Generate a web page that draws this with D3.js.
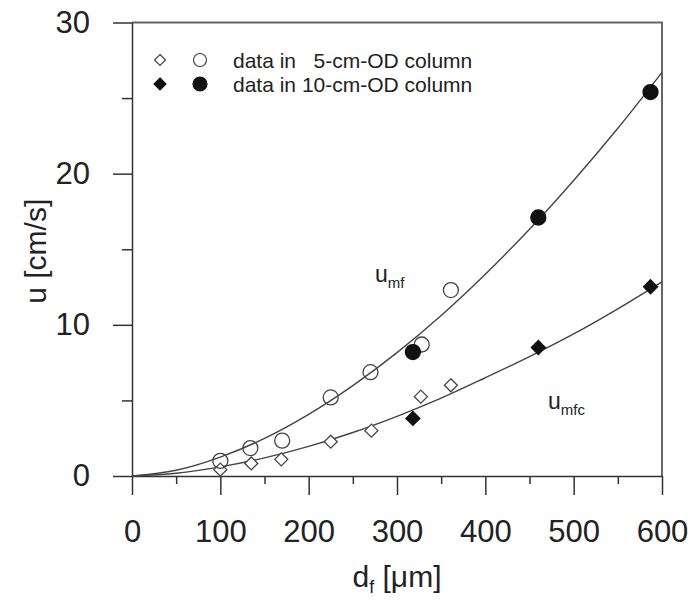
<!DOCTYPE html>
<html>
<head>
<meta charset="utf-8">
<script src="https://cdn.jsdelivr.net/npm/d3@7"></script>
<style>
  body { margin: 0; background: #fff; }
  svg { font-family: "Liberation Sans", Arial, sans-serif; }
</style>
</head>
<body>
<div id="vis"></div>
<script>
const width = 694;
const height = 606;
const margin = { top: 22.5, right: 32, bottom: 130, left: 132 };

// 5-cm-OD column (open markers)
const circles5 = [[100, 1.0], [134, 1.85], [170, 2.34], [225, 5.2], [270, 6.87], [328, 8.7], [361, 12.3]];
const diamonds5 = [[100, 0.42], [135, 0.83], [169, 1.1], [225, 2.27], [271, 3.0], [327, 5.25], [361, 6.0]];
// 10-cm-OD column (filled markers)
const circles10 = [[318, 8.2], [460, 17.1], [587, 25.4]];
const diamonds10 = [[318, 3.81], [460, 8.5], [587, 12.52]];

// fitted curves
const curveX = [0, 50, 100, 150, 200, 250, 300, 350, 400, 450, 500, 550, 600];
const umf = [0, 0.38, 1.25, 2.49, 4.08, 5.98, 8.16, 10.62, 13.35, 16.32, 19.55, 23.0, 26.7];
const umfc = [0, 0.18, 0.6, 1.2, 1.96, 2.88, 3.95, 5.15, 6.5, 7.9, 9.4, 11.06, 12.85];

const xMajor = [0, 100, 200, 300, 400, 500, 600];
const xMinor = [50, 150, 250, 350, 450, 550];
const yMajor = [0, 10, 20, 30];
const yMinor = [5, 15, 25];

const ink = '#333';

const svg = d3.select('#vis').append('svg')
  .attr('width', width)
  .attr('height', height);

const x = d3.scaleLinear()
  .domain([0, 600])
  .range([margin.left, width - margin.right]);
const y = d3.scaleLinear()
  .domain([0, 30])
  .range([height - margin.bottom, margin.top]);

// frame on top and right
svg.append('path')
  .attr('d', `M${x(0)},${y(30)}H${x(600)}V${y(0)}`)
  .attr('fill', 'none')
  .attr('stroke', '#666')
  .attr('stroke-width', 2);

// axes
const xAxis = svg.append('g')
  .attr('transform', `translate(0,${y(0)})`)
  .call(d3.axisBottom(x).tickValues(xMajor).tickSize(19).tickSizeOuter(0).tickPadding(25));
svg.append('g')
  .attr('transform', `translate(0,${y(0)})`)
  .call(d3.axisBottom(x).tickValues(xMinor).tickSize(8).tickFormat(''))
  .call(g => g.select('.domain').remove());
const yAxis = svg.append('g')
  .attr('transform', `translate(${x(0)},0)`)
  .call(d3.axisLeft(y).tickValues(yMajor).tickSize(19).tickSizeOuter(0).tickPadding(23));
svg.append('g')
  .attr('transform', `translate(${x(0)},0)`)
  .call(d3.axisLeft(y).tickValues(yMinor).tickSize(10).tickFormat(''))
  .call(g => g.select('.domain').remove());

svg.selectAll('.domain, .tick line')
  .attr('stroke', ink)
  .attr('stroke-width', 1.5);
svg.selectAll('.tick text')
  .attr('fill', '#222')
  .style('font-size', '31px')
  .style('font-family', '"Liberation Sans", Arial, sans-serif');

// axis titles
svg.append('text')
  .attr('transform', `translate(46,${(y(0) + y(30)) / 2 + 2}) rotate(-90)`)
  .attr('text-anchor', 'middle')
  .attr('fill', '#222')
  .style('font-size', '30px')
  .text('u [cm/s]');

const xTitle = svg.append('text')
  .attr('x', (x(0) + x(600)) / 2)
  .attr('y', 587)
  .attr('text-anchor', 'middle')
  .attr('fill', '#222')
  .style('font-size', '30px');
xTitle.append('tspan').text('d');
xTitle.append('tspan').attr('dy', 6).style('font-size', '18px').text('f');
xTitle.append('tspan').attr('dy', -6).text(' [\u03bcm]');

// curves
const line = d3.line()
  .x(d => x(d[0]))
  .y(d => y(d[1]))
  .curve(d3.curveMonotoneX);
[umf, umfc].forEach(vals => {
  svg.append('path')
    .datum(curveX.map((d, i) => [d, vals[i]]))
    .attr('d', line)
    .attr('fill', 'none')
    .attr('stroke', '#444')
    .attr('stroke-width', 1.4);
});

// curve labels
function curveLabel(px, py, sub) {
  const t = svg.append('text')
    .attr('x', px)
    .attr('y', py)
    .attr('fill', '#222')
    .style('font-size', '23px');
  t.append('tspan').text('u');
  t.append('tspan').attr('dy', 6).style('font-size', '15px').text(sub);
}
curveLabel(375, 282, 'mf');
curveLabel(548, 409, 'mfc');

// markers
const diamond = s => `M0,${-s}L${s},0L0,${s}L${-s},0Z`;

function drawCircles(data, r, filled) {
  svg.append('g').selectAll('circle')
    .data(data)
    .join('circle')
    .attr('cx', d => x(d[0]))
    .attr('cy', d => y(d[1]))
    .attr('r', r)
    .attr('fill', filled ? '#111' : '#fff')
    .attr('fill-opacity', filled ? 1 : 0)
    .attr('stroke', filled ? '#111' : '#444')
    .attr('stroke-width', 1.3);
}
function drawDiamonds(data, s, filled) {
  svg.append('g').selectAll('path')
    .data(data)
    .join('path')
    .attr('transform', d => `translate(${x(d[0])},${y(d[1])})`)
    .attr('d', diamond(s))
    .attr('fill', filled ? '#111' : '#fff')
    .attr('stroke', filled ? '#111' : '#444')
    .attr('stroke-width', 1.3);
}
drawDiamonds(diamonds5, 6.5, false);
drawCircles(circles5, 7.5, false);
drawDiamonds(diamonds10, 7, true);
drawCircles(circles10, 7.5, true);

// legend
const legend = svg.append('g');
const legendRows = [
  { label: 'data in   5-cm-OD column', filled: false },
  { label: 'data in 10-cm-OD column', filled: true }
];
legendRows.forEach((row, i) => {
  const cy = 60 + i * 24;
  legend.append('path')
    .attr('transform', `translate(160,${cy})`)
    .attr('d', diamond(row.filled ? 6 : 5.5))
    .attr('fill', row.filled ? '#111' : '#fff')
    .attr('stroke', row.filled ? '#111' : '#444')
    .attr('stroke-width', 1.2);
  legend.append('circle')
    .attr('cx', 200)
    .attr('cy', cy)
    .attr('r', row.filled ? 7 : 6.5)
    .attr('fill', row.filled ? '#111' : '#fff')
    .attr('stroke', row.filled ? '#111' : '#444')
    .attr('stroke-width', 1.2);
  legend.append('text')
    .attr('x', 233)
    .attr('y', cy + 7.5)
    .attr('fill', '#222')
    .style('font-size', '21px')
    .style('white-space', 'pre')
    .attr('xml:space', 'preserve')
    .text(row.label);
});
</script>
</body>
</html>
